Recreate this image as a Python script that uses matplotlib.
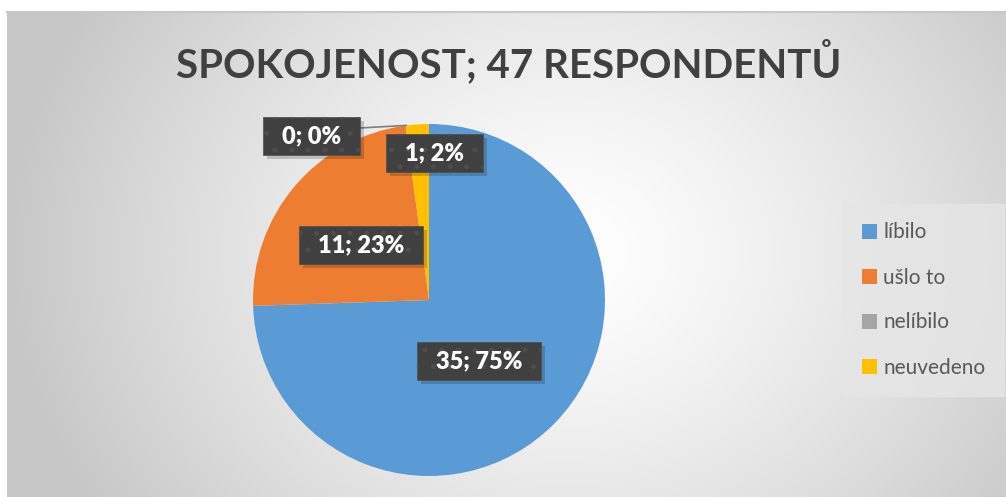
import numpy as np
import matplotlib
matplotlib.use('Agg')
import matplotlib.pyplot as plt
from matplotlib.patches import Rectangle

# data
categories = ['líbilo', 'ušlo to', 'nelíbilo', 'neuvedeno']
counts = [35, 11, 0, 1]
percents = [75, 23, 0, 2]   # as shown on the chart
colors = ['#5b9bd5', '#ed7d31', '#a5a5a5', '#ffc000']
title = 'SPOKOJENOST; 47 RESPONDENTŮ'

plt.rcParams['font.family'] = ['Lato', 'DejaVu Sans']
plt.rcParams['hatch.linewidth'] = 1.2

fig = plt.figure(figsize=(10.06, 4.97), dpi=100)
W, H = 1006, 497

# background: radial gradient chart area
bg = fig.add_axes([7 / W, 0, 1 - 7 / W, 1 - 12 / H])
yy, xx = np.mgrid[0:485, 0:999]
cx, cy = 560, 240
d = np.sqrt(((xx - cx) / 560.0) ** 2 + ((yy - cy) / 480.0) ** 2)
d = np.clip(d, 0, 1)
shade = 1.0 - 0.22 * d ** 1.3
img = np.dstack([shade, shade, shade])
bg.imshow(img, aspect='auto', extent=[0, 1, 0, 1], origin='upper')
bg.set_xlim(0, 1)
bg.set_ylim(0, 1)
bg.axis('off')
bg.plot([0, 1], [1, 1], color='#c8c8c8', lw=1.5, transform=bg.transAxes, clip_on=False)

# pie
R = 176
pcx, pcy = 429, 300
ax = fig.add_axes([(pcx - R) / W, (H - pcy - R) / H, 2 * R / W, 2 * R / H])
ax.set_aspect('equal')
wedges, _ = ax.pie(counts, colors=colors, startangle=90, counterclock=False,
                   radius=1, wedgeprops=dict(linewidth=0))
ax.set_xlim(-1, 1)
ax.set_ylim(-1, 1)
ax.axis('off')

# label positions (pie units), in wedge order
label_pos = [(0.285, -0.347), (-0.385, 0.31), (-0.67, 0.93), (0.03, 0.835)]
ax.plot([-0.4, -0.13], [0.977, 0.992], color='#7f7f7f', lw=1.2, clip_on=False)

fig.canvas.draw()
r = fig.canvas.get_renderer()
for i, w in enumerate(wedges):
    lab = '%d; %d%%' % (counts[i], percents[i])
    tx, ty = label_pos[i]
    t = ax.text(tx, ty, lab, ha='center', va='center', color='white',
                fontsize=17, fontweight='heavy')
    bb = t.get_window_extent(r).transformed(fig.transFigure.inverted())
    t.remove()
    px, py = 19 / W, 8 / H
    x0, y0 = bb.x0 - px, bb.y0 - py
    bw, bh = bb.width + 2 * px, bb.height + 2 * py
    fig.add_artist(Rectangle((x0 + 4 / W, y0 - 4 / H), bw, bh, transform=fig.transFigure,
                             facecolor='black', alpha=0.18, lw=0, zorder=4))
    fig.add_artist(Rectangle((x0, y0), bw, bh, transform=fig.transFigure,
                             facecolor='#404040', edgecolor='#4d4d4d', hatch='.',
                             lw=0.5, zorder=5))
    fig.text(bb.x0 + bb.width / 2, bb.y0 + bb.height / 2, lab, ha='center', va='center',
             color='white', fontsize=17, fontweight='heavy', zorder=6)

fig.text(509 / W, 1 - 62 / H, title, ha='center', va='center',
         fontsize=29, fontweight='bold', color='#404040')

leg = fig.legend(wedges, categories, loc='upper left',
                 bbox_to_anchor=(849 / W, 1 - 210 / H), frameon=True,
                 fontsize=15, labelcolor='#595959', handlelength=0.75,
                 handleheight=0.75, handletextpad=0.3, labelspacing=1.2,
                 borderpad=0.6, borderaxespad=0)
leg.get_frame().set_facecolor('#e6e6e6')
leg.get_frame().set_edgecolor('#e6e6e6')
leg.get_frame().set_alpha(0.8)
leg.get_frame().set_boxstyle('square')

fig.savefig('out.png', dpi=100)
